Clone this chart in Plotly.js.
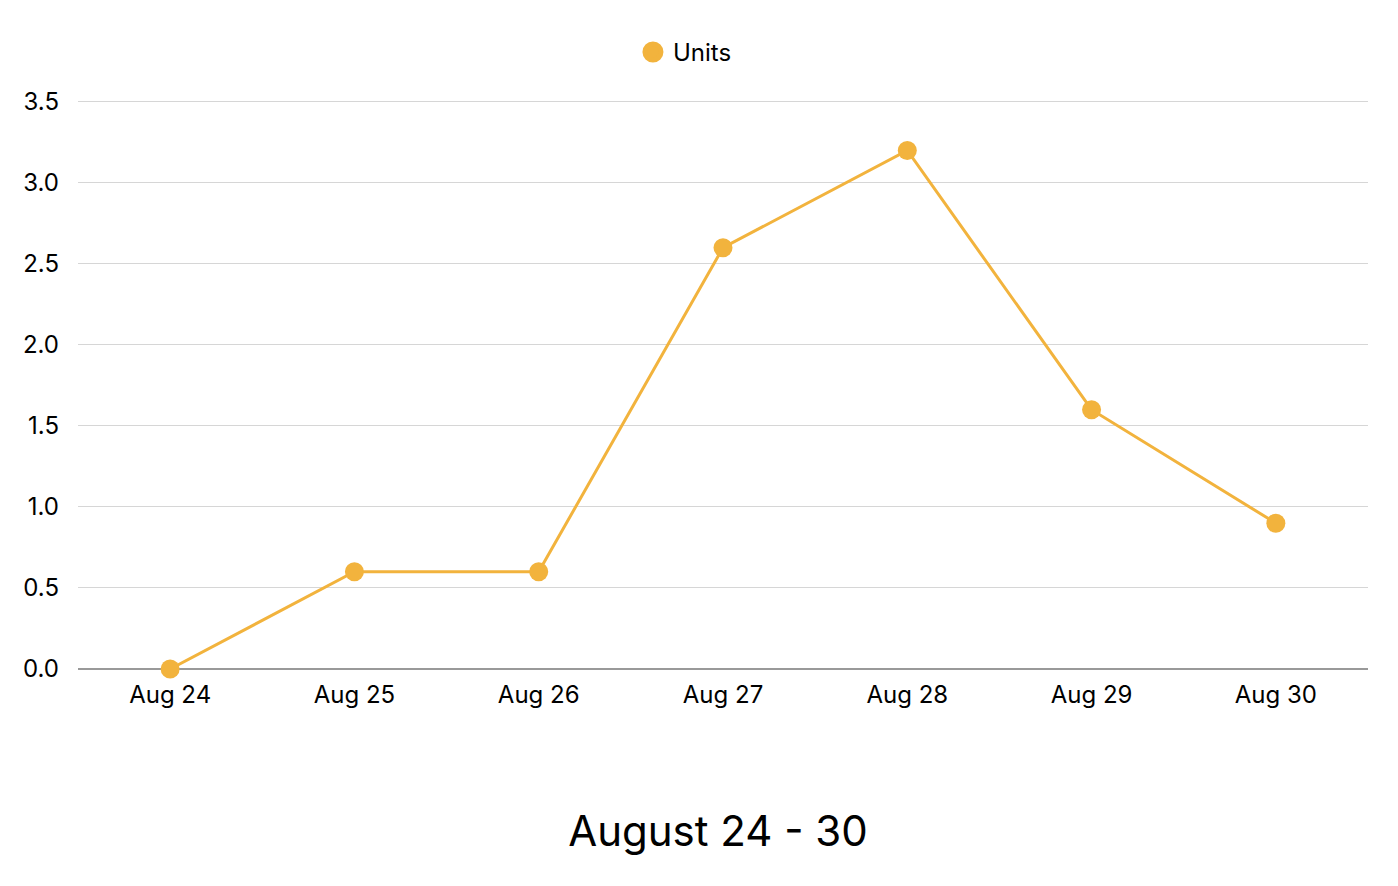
<!DOCTYPE html>
<html>
<head>
<meta charset="utf-8">
<script src="https://cdn.plot.ly/plotly-3.0.1.min.js"></script>
<style>html,body{margin:0;padding:0;background:#fff;}#chart{width:1398px;height:886px;}</style>
</head>
<body>
<div id="chart"></div>
<script>
const categories = ["Aug 24", "Aug 25", "Aug 26", "Aug 27", "Aug 28", "Aug 29", "Aug 30"];
const units = [0, 0.6, 0.6, 2.6, 3.2, 1.6, 0.9];
const seriesName = "Units";
const chartTitle = "August 24 - 30";
const yTicks = [0, 0.5, 1, 1.5, 2, 2.5, 3, 3.5];

const color = "#F2B33D";
const font = "Inter, 'Liberation Sans', Arial, sans-serif";

const data = [{
  type: "scatter",
  mode: "lines+markers",
  x: categories,
  y: units,
  name: seriesName,
  showlegend: false,
  line: {color: color, width: 3},
  marker: {color: color, size: 19},
  cliponaxis: false
}, {
  type: "scatter",
  mode: "markers",
  x: [null],
  y: [null],
  name: seriesName,
  showlegend: true,
  marker: {color: color, size: 27, line: {color: color, width: 8}}
}];

const layout = {
  width: 1398,
  height: 886,
  margin: {l: 78, r: 30, t: 97, b: 217},
  paper_bgcolor: "#fff",
  plot_bgcolor: "#fff",
  font: {family: font, size: 24, color: "#000"},
  showlegend: true,
  legend: {orientation: "h", x: 0.4705, xanchor: "center", y: 1.078, yanchor: "middle", font: {size: 24}, itemsizing: "trace"},
  title: {text: chartTitle, font: {size: 42, color: "#000"}, x: 0.5136, xanchor: "center", xref: "container", y: 0.062, yref: "container", yanchor: "middle"},
  xaxis: {
    type: "category",
    range: [-0.5, 6.5],
    showgrid: false,
    zeroline: false,
    showline: false,
    ticks: "",
    tickfont: {size: 24},
    ticklabelstandoff: 9
  },
  yaxis: {
    range: [0, 3.53],
    tickvals: yTicks,
    tickformat: ".1f",
    showgrid: true,
    gridcolor: "#d6d6d6",
    gridwidth: 1,
    zeroline: true,
    zerolinecolor: "#999",
    zerolinewidth: 1.5,
    ticks: "",
    tickfont: {size: 24},
    ticklabelstandoff: 18
  }
};

Plotly.newPlot("chart", data, layout, {displayModeBar: false, staticPlot: true});
</script>
</body>
</html>
